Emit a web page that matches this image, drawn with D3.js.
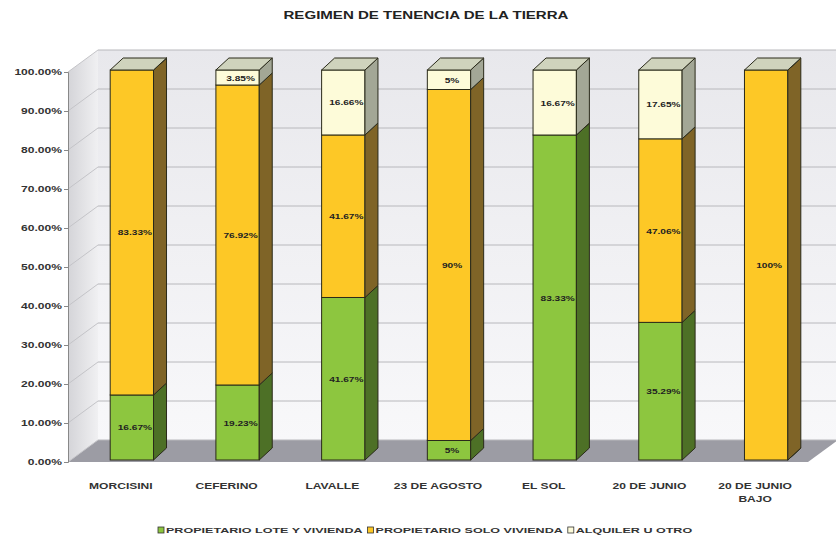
<!DOCTYPE html>
<html>
<head>
<meta charset="utf-8">
<script src="https://cdn.jsdelivr.net/npm/d3@7"></script>
<style>
  body { margin: 0; background: #fff; }
  text { font-family: "Liberation Sans", Arial, sans-serif; font-weight: bold; }
</style>
</head>
<body>
<script>
var categories = ["MORCISINI", "CEFERINO", "LAVALLE", "23 DE AGOSTO", "EL SOL", "20 DE JUNIO", "20 DE JUNIO BAJO"];
var series = ["PROPIETARIO LOTE Y VIVIENDA", "PROPIETARIO SOLO VIVIENDA", "ALQUILER U OTRO"];
var loteVivienda = [16.67, 19.23, 41.67, 5, 83.33, 35.29, 0];
var soloVivienda = [83.33, 76.92, 41.67, 90, 0, 47.06, 100];
var alquiler = [0, 3.85, 16.66, 5, 16.67, 17.65, 0];
var yTicks = [0, 10, 20, 30, 40, 50, 60, 70, 80, 90, 100];

var width = 836, height = 541;
var wallDx = 30, wallDy = -22;      // depth of the walls
var barDx = 13, barDy = -12;        // depth of each bar
var barOffX = 11, barOffY = -2;     // bars sit a bit behind the front plane
var sx = 1.42;                      // text in the picture is stretched sideways

var front = { face: ["#8dc63f", "#fdc826", "#fdfbd9"],
              side: ["#4d7026", "#7f6427", "#a3a796"],
              top:  ["#b7dc7e", "#fde28a", "#cfd3bd"] };

var svg = d3.select("body").append("svg")
    .attr("width", width)
    .attr("height", height);

var x = d3.scaleBand().domain(categories).range([68, 808]);
var y = d3.scaleLinear().domain([0, 100]).range([462, 72]);

var defs = svg.append("defs");
var g1 = defs.append("linearGradient").attr("id", "backwall").attr("x1", 0).attr("y1", 0).attr("x2", 0).attr("y2", 1);
g1.append("stop").attr("offset", "0%").attr("stop-color", "#e8e8ec");
g1.append("stop").attr("offset", "100%").attr("stop-color", "#f8f8fa");
var g2 = defs.append("linearGradient").attr("id", "leftwall").attr("x1", 0).attr("y1", 0).attr("x2", 1).attr("y2", 0);
g2.append("stop").attr("offset", "0%").attr("stop-color", "#d4d4d8");
g2.append("stop").attr("offset", "100%").attr("stop-color", "#f0f0f2");

function pts(a) { return a.map(function(p) { return p.join(","); }).join(" "); }

function stretched(parent, px, py, str, size, anchor, k) {
  return parent.append("text")
      .attr("transform", "translate(" + px + "," + py + ") scale(" + (k || sx) + ",1)")
      .attr("text-anchor", anchor || "middle")
      .style("font-size", size + "px")
      .attr("fill", "#333")
      .text(str);
}

// title
svg.append("text")
    .attr("x", 426).attr("y", 19)
    .attr("text-anchor", "middle")
    .attr("textLength", 285).attr("lengthAdjust", "spacingAndGlyphs")
    .style("font-size", "11px")
    .attr("fill", "#222")
    .text("REGIMEN DE TENENCIA DE LA TIERRA");

var x0 = 68, x1 = 808;

// walls and floor
svg.append("polygon")
    .attr("points", pts([[x0 + wallDx, y(100) + wallDy], [x1 + wallDx, y(100) + wallDy], [x1 + wallDx, y(0) + wallDy], [x0 + wallDx, y(0) + wallDy]]))
    .attr("fill", "url(#backwall)");
svg.append("polygon")
    .attr("points", pts([[x0, y(100)], [x0 + wallDx, y(100) + wallDy], [x0 + wallDx, y(0) + wallDy], [x0, y(0)]]))
    .attr("fill", "url(#leftwall)");
svg.append("polygon")
    .attr("points", pts([[x0, y(0)], [x0 + wallDx, y(0) + wallDy], [x1 + wallDx, y(0) + wallDy], [x1, y(0)]]))
    .attr("fill", "#9c9ca4");

// gridlines on back and left wall
yTicks.forEach(function(t) {
  svg.append("line")
      .attr("x1", x0 + wallDx).attr("x2", x1 + wallDx)
      .attr("y1", y(t) + wallDy).attr("y2", y(t) + wallDy)
      .attr("stroke", "#b8b8bc").attr("stroke-width", 1);
  svg.append("line")
      .attr("x1", x0).attr("x2", x0 + wallDx)
      .attr("y1", y(t)).attr("y2", y(t) + wallDy)
      .attr("stroke", "#c4c4c8").attr("stroke-width", 1);
});

// y axis
var yAxis = d3.axisLeft(y).tickValues(yTicks).tickSize(4)
    .tickFormat(function(d) { return d3.format(".2f")(d) + "%"; });
var ax = svg.append("g").attr("transform", "translate(" + x0 + ",0)").call(yAxis);
ax.select(".domain").attr("stroke", "#888");
ax.selectAll(".tick line").attr("stroke", "#888");
ax.selectAll(".tick text").remove();
yTicks.forEach(function(t) {
  stretched(svg, 62, y(t) + 3, d3.format(".2f")(t) + "%", 8.5, "end");
});

// stacked bars
var rows = categories.map(function(c, i) {
  return { cat: c, a: loteVivienda[i], b: soloVivienda[i], c: alquiler[i] };
});
var stack = d3.stack().keys(["a", "b", "c"])(rows);

var bw = x.bandwidth() * 0.41;
function bx(c) { return x(c) + (x.bandwidth() - bw) / 2 + barOffX; }
function by(v) { return y(v) + barOffY; }

var bars = svg.append("g");
categories.forEach(function(c, i) {
  var left = bx(c), right = left + bw;
  stack.forEach(function(s, k) {
    var d = s[i];
    var top = by(d[1]), bot = by(d[0]);
    bars.append("rect")
        .attr("x", left).attr("y", top)
        .attr("width", bw).attr("height", bot - top)
        .attr("fill", front.face[k]).attr("stroke", "#2a2a1a").attr("stroke-width", 1);
    bars.append("polygon")
        .attr("points", pts([[right, top], [right + barDx, top + barDy], [right + barDx, bot + barDy], [right, bot]]))
        .attr("fill", front.side[k]).attr("stroke", "#2a2a1a").attr("stroke-width", 1);
  });
  var t = by(100);
  bars.append("polygon")
      .attr("points", pts([[left, t], [left + barDx, t + barDy], [right + barDx, t + barDy], [right, t]]))
      .attr("fill", front.top[2]).attr("stroke", "#2a2a1a").attr("stroke-width", 1);
});

// value labels
stack.forEach(function(s, k) {
  s.forEach(function(d, i) {
    var v = d[1] - d[0];
    if (v <= 0) return;
    var c = categories[i];
    var cy = (by(d[0]) + by(d[1])) / 2;
    stretched(bars, bx(c) + bw / 2 + 3, cy + 3, (Math.round(v * 100) / 100) + "%", 7.5, "middle", 1.35)
        .attr("fill", "#222");
  });
});

// category labels
categories.forEach(function(c) {
  var cx = x(c) + x.bandwidth() / 2;
  var lines = [c];
  if (c.length > 14) {
    var p = c.lastIndexOf(" ");
    lines = [c.slice(0, p), c.slice(p + 1)];
  }
  lines.forEach(function(l, j) {
    stretched(svg, cx, 489 + j * 13, l, 8.5, "middle");
  });
});

// legend: items laid out one after the other
var legend = svg.append("g");
var lx = 158, legK = 1.57;
series.forEach(function(s, k) {
  legend.append("rect")
      .attr("x", lx).attr("y", 527)
      .attr("width", 6).attr("height", 6)
      .attr("fill", front.face[k]).attr("stroke", "#333").attr("stroke-width", 0.8);
  var t = stretched(legend, lx + 8, 533, s, 8, "start", legK);
  lx += 8 + t.node().getComputedTextLength() * legK + 5;
});
</script>
</body>
</html>
